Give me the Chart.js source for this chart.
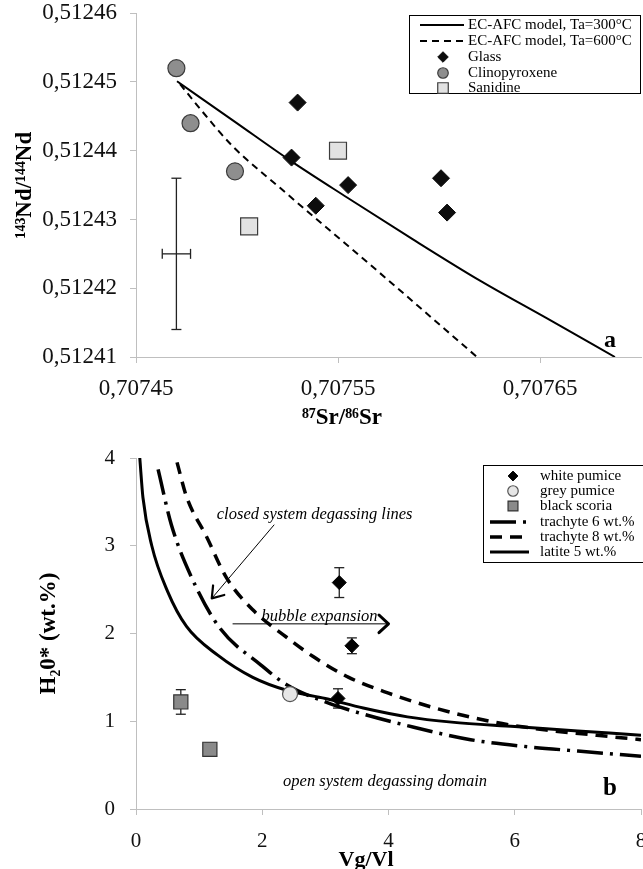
<!DOCTYPE html>
<html><head><meta charset="utf-8">
<script src="https://cdn.jsdelivr.net/npm/chart.js@4.4.1/dist/chart.umd.min.js"></script>
<style>
html,body{margin:0;padding:0;background:#fff;overflow:hidden;width:643px;height:869px;}
#wrap{position:relative;width:643px;height:869px;overflow:hidden;background:#fff;}
canvas{position:absolute;left:0;}
</style></head><body>
<div id="wrap">
<canvas id="c1" width="660" height="435" style="top:0;width:660px;height:435px"></canvas>
<canvas id="c2" width="660" height="434" style="top:435px;width:660px;height:434px"></canvas>
</div>
<script>
// ---------- Panel a data ----------
const srTicks = [0.70745, 0.70755, 0.70765];
const ndTicks = [0.51241, 0.51242, 0.51243, 0.51244, 0.51245, 0.51246];
const srGlass = [0.70753, 0.707527, 0.707555, 0.707539, 0.707601, 0.707604];
const ndGlass = [0.512447, 0.512439, 0.512435, 0.512432, 0.512436, 0.512431];
const srCpx = [0.70747, 0.707477, 0.707499];
const ndCpx = [0.512452, 0.512444, 0.512437];
const srSan = [0.70755, 0.707506];
const ndSan = [0.51244, 0.512429];
const srTa300 = [0.7074703, 0.707499, 0.7075262, 0.7075545, 0.7075871, 0.7076203, 0.7076535, 0.7076871];
const ndTa300 = [0.5124501, 0.5124442, 0.5124386, 0.5124332, 0.5124271, 0.5124211, 0.5124156, 0.51241];
const srTa600 = [0.7074718, 0.7074817, 0.707498, 0.7075213, 0.7075708, 0.7076188];
const ndTa600 = [0.5124497, 0.5124461, 0.5124406, 0.5124346, 0.5124222, 0.51241];
const srErrCenter = [0.70747];
const ndErrCenter = [0.512425];
const srErr = [0.000007];
const ndErr = [0.000011];

// ---------- Panel b data ----------
const vgTicks = [0, 2, 4, 6, 8];
const h2oTicks = [0, 1, 2, 3, 4];
const whiteVg = [3.22, 3.42, 3.2];
const whiteH2o = [2.58, 1.86, 1.26];
const whiteErr = [0.17, 0.09, 0.11];
const greyVg = [2.44];
const greyH2o = [1.31];
const blackVg = [0.71, 1.17];
const blackH2o = [1.22, 0.68];
const blackErr = [0.14, 0.07];
const tr6Vg = [0.35, 0.56, 0.88, 1.32, 1.98, 2.38, 3.0, 3.56, 4.3, 5.3, 6.2, 7.0, 8.0];
const tr6H2o = [3.87, 3.24, 2.64, 2.07, 1.64, 1.42, 1.22, 1.09, 0.95, 0.79, 0.71, 0.66, 0.6];
const tr8Vg = [0.65, 0.8, 1.12, 1.43, 1.85, 2.38, 2.8, 3.37, 4.0, 4.69, 5.6, 6.5, 7.3, 8.0];
const tr8H2o = [3.95, 3.56, 3.1, 2.64, 2.27, 1.96, 1.74, 1.5, 1.32, 1.16, 1.0, 0.9, 0.84, 0.79];
const lat5Vg = [0.06, 0.11, 0.25, 0.5, 0.8, 1.3, 1.85, 2.4, 3.0, 3.6, 4.3, 5.0, 6.0, 7.0, 8.0];
const lat5H2o = [4.0, 3.55, 3.0, 2.48, 2.08, 1.75, 1.5, 1.35, 1.26, 1.15, 1.05, 0.99, 0.94, 0.89, 0.84];

const SERIF = "'Liberation Serif', 'Times New Roman', Times, serif";
const pts = (xs, ys) => xs.map((x, i) => ({x: x, y: ys[i]}));
const fmt5 = v => Number(v).toFixed(5).replace('.', ',');

function drawMarker(ctx, style, x, y, r, fill, stroke, bw) {
  ctx.save();
  ctx.fillStyle = fill; ctx.strokeStyle = stroke; ctx.lineWidth = bw;
  ctx.beginPath();
  if (style === 'circle') ctx.arc(x, y, r, 0, Math.PI * 2);
  else if (style === 'rectRot') { ctx.moveTo(x, y - r); ctx.lineTo(x + r, y); ctx.lineTo(x, y + r); ctx.lineTo(x - r, y); ctx.closePath(); }
  else { const s = r * Math.SQRT1_2; ctx.rect(x - s, y - s, 2 * s, 2 * s); }
  ctx.fill(); if (bw > 0) ctx.stroke();
  ctx.restore();
}

function makeExtras(cfg) {
  return {
    id: 'extras_' + cfg.name,
    beforeDatasetsDraw(chart) {
      const ctx = chart.ctx, xs = chart.scales.x, ys = chart.scales.y;
      (cfg.errorBars || []).forEach(eb => {
        ctx.save(); ctx.strokeStyle = eb.color; ctx.lineWidth = eb.width;
        const seg = (a, b, c, d) => { ctx.beginPath(); ctx.moveTo(a, b); ctx.lineTo(c, d); ctx.stroke(); };
        eb.x.forEach((xv, i) => {
          const px = xs.getPixelForValue(xv), py = ys.getPixelForValue(eb.y[i]);
          if (eb.yErr) {
            const t = ys.getPixelForValue(eb.y[i] + eb.yErr[i]), b = ys.getPixelForValue(eb.y[i] - eb.yErr[i]);
            seg(px, t, px, b); seg(px - eb.cap, t, px + eb.cap, t); seg(px - eb.cap, b, px + eb.cap, b);
          }
          if (eb.xErr) {
            const l = xs.getPixelForValue(xv - eb.xErr[i]), r = xs.getPixelForValue(xv + eb.xErr[i]);
            seg(l, py, r, py); seg(l, py - eb.cap, l, py + eb.cap); seg(r, py - eb.cap, r, py + eb.cap);
          }
        });
        ctx.restore();
      });
    },
    afterDraw(chart) {
      const ctx = chart.ctx, xs = chart.scales.x, ys = chart.scales.y;
      (cfg.arrows || []).forEach(a => {
        const x0 = xs.getPixelForValue(a.from[0]), y0 = ys.getPixelForValue(a.from[1]);
        const x1 = xs.getPixelForValue(a.to[0]), y1 = ys.getPixelForValue(a.to[1]);
        ctx.save(); ctx.strokeStyle = '#000'; ctx.lineWidth = a.lineWidth;
        ctx.beginPath(); ctx.moveTo(x0, y0); ctx.lineTo(x1, y1); ctx.stroke();
        const ang = Math.atan2(y1 - y0, x1 - x0);
        ctx.lineWidth = a.headWidth; ctx.lineCap = 'round'; ctx.lineJoin = 'round';
        ctx.beginPath();
        ctx.moveTo(x1 - a.headLen * Math.cos(ang - a.headAng), y1 - a.headLen * Math.sin(ang - a.headAng));
        ctx.lineTo(x1, y1);
        ctx.lineTo(x1 - a.headLen * Math.cos(ang + a.headAng), y1 - a.headLen * Math.sin(ang + a.headAng));
        ctx.stroke();
        ctx.restore();
      });
      (cfg.texts || []).forEach(t => {
        ctx.save(); ctx.font = t.font; ctx.fillStyle = '#000';
        ctx.textAlign = t.align || 'left'; ctx.textBaseline = 'middle';
        ctx.fillText(t.text, xs.getPixelForValue(t.x), ys.getPixelForValue(t.y));
        ctx.restore();
      });
      if (cfg.xTitle) {
        ctx.save(); ctx.font = cfg.xTitle.font; ctx.fillStyle = '#000';
        ctx.textAlign = 'center'; ctx.textBaseline = 'middle';
        ctx.fillText(cfg.xTitle.text, cfg.xTitle.px, cfg.xTitle.py);
        ctx.restore();
      }
      const lg = cfg.legend;
      if (lg) {
        ctx.save();
        ctx.fillStyle = '#fff'; ctx.fillRect(lg.x, lg.y, lg.w, lg.h);
        ctx.strokeStyle = '#000'; ctx.lineWidth = 1; ctx.strokeRect(lg.x + 0.5, lg.y + 0.5, lg.w, lg.h);
        ctx.font = lg.font; ctx.textBaseline = 'middle'; ctx.textAlign = 'left';
        lg.order.forEach((di, i) => {
          const ds = chart.data.datasets[di];
          const y = lg.rowY[i];
          if (ds.showLine) {
            ctx.save(); ctx.strokeStyle = ds.borderColor; ctx.lineWidth = ds.borderWidth;
            ctx.setLineDash(ds.borderDash || []);
            ctx.beginPath(); ctx.moveTo(lg.lineX0, y); ctx.lineTo(lg.lineX1, y); ctx.stroke();
            ctx.restore();
          } else {
            drawMarker(ctx, ds.pointStyle, lg.markerX, y, ds.pointRadius * lg.markerScale,
              ds.backgroundColor, ds.borderColor, ds.borderWidth);
          }
          ctx.fillStyle = '#000';
          ctx.fillText(ds.label, lg.textX, y);
        });
        ctx.restore();
      }
    }
  };
}

const commonGrid = {drawOnChartArea: false, drawTicks: true, tickLength: 6, color: '#bfbfbf', lineWidth: 1};
const commonBorder = {color: '#bfbfbf', width: 1};
const fixY = s => { s.width = 136; s.paddingTop = 0; s.paddingBottom = 0; };
const fixX = h => s => { s.height = h; s.paddingLeft = 0; s.paddingRight = 0; };

// ---------- Chart a ----------
new Chart(document.getElementById('c1'), {
  type: 'scatter',
  data: {datasets: [
    {label: 'Glass', data: pts(srGlass, ndGlass), pointStyle: 'rectRot', pointRadius: 8.5,
     backgroundColor: '#0d0d0d', borderColor: '#0d0d0d', borderWidth: 1, order: 1},
    {label: 'Clinopyroxene', data: pts(srCpx, ndCpx), pointStyle: 'circle', pointRadius: 8.5,
     backgroundColor: '#8e8e8e', borderColor: '#3c3c3c', borderWidth: 1.2, order: 1},
    {label: 'Sanidine', data: pts(srSan, ndSan), pointStyle: 'rect', pointRadius: 12,
     backgroundColor: '#e2e2e2', borderColor: '#3c3c3c', borderWidth: 1.2, order: 1},
    {label: 'EC-AFC model, Ta=300°C', data: pts(srTa300, ndTa300), showLine: true, pointRadius: 0,
     borderColor: '#000', backgroundColor: '#000', borderWidth: 2, cubicInterpolationMode: 'monotone', order: 2},
    {label: 'EC-AFC model, Ta=600°C', data: pts(srTa600, ndTa600), showLine: true, pointRadius: 0,
     borderColor: '#000', backgroundColor: '#000', borderWidth: 2, borderDash: [7, 5], cubicInterpolationMode: 'monotone', order: 2}
  ]},
  options: {
    responsive: false, animation: false, devicePixelRatio: 1,
    layout: {padding: {top: 12, right: 19, left: 0, bottom: 0}},
    plugins: {legend: {display: false}, tooltip: {enabled: false}},
    scales: {
      x: {type: 'linear', min: 0.70745, max: 0.7077,
        afterBuildTicks: s => { s.ticks = srTicks.map(v => ({value: v})); },
        afterFit: fixX(78),
        grid: commonGrid, border: commonBorder,
        ticks: {font: {family: SERIF, size: 23}, color: '#111', padding: 12, maxRotation: 0, callback: v => fmt5(v)}},
      y: {type: 'linear', min: 0.51241, max: 0.51246,
        afterBuildTicks: s => { s.ticks = ndTicks.map(v => ({value: v})); },
        afterFit: fixY,
        grid: commonGrid, border: commonBorder,
        ticks: {font: {family: SERIF, size: 23, lineHeight: 1}, color: '#111', padding: 13, callback: v => fmt5(v)},
        title: {display: true, text: '¹⁴³Nd/¹⁴⁴Nd', color: '#000',
          font: {family: SERIF, size: 23, weight: 'bold'}, padding: {top: 11, bottom: 0}}}
    }
  },
  plugins: [makeExtras({
    name: 'a',
    errorBars: [{x: srErrCenter, y: ndErrCenter, xErr: srErr, yErr: ndErr, color: '#222', width: 1.3, cap: 5}],
    texts: [{text: 'a', x: 0.7076846, y: 0.5124123, font: 'bold 24px ' + SERIF, align: 'center'}],
    xTitle: {text: '⁸⁷Sr/⁸⁶Sr', px: 342, py: 418, font: 'bold 23px ' + SERIF},
    legend: {x: 409, y: 15, w: 231, h: 78, rowY: [25, 41, 57, 73, 88], order: [3, 4, 0, 1, 2],
      lineX0: 420, lineX1: 464, markerX: 443, markerScale: 0.62, textX: 468, font: '15px ' + SERIF}
  })]
});

// ---------- Chart b ----------
new Chart(document.getElementById('c2'), {
  type: 'scatter',
  data: {datasets: [
    {label: 'white pumice', data: pts(whiteVg, whiteH2o), pointStyle: 'rectRot', pointRadius: 7,
     backgroundColor: '#000', borderColor: '#000', borderWidth: 1, order: 1},
    {label: 'grey pumice', data: pts(greyVg, greyH2o), pointStyle: 'circle', pointRadius: 7.5,
     backgroundColor: '#e6e6e6', borderColor: '#555', borderWidth: 1.2, order: 1},
    {label: 'black scoria', data: pts(blackVg, blackH2o), pointStyle: 'rect', pointRadius: 10,
     backgroundColor: '#8a8a8a', borderColor: '#333', borderWidth: 1.2, order: 1},
    {label: 'trachyte 6 wt.%', data: pts(tr6Vg, tr6H2o), showLine: true, pointRadius: 0,
     borderColor: '#000', backgroundColor: '#000', borderWidth: 3.5, borderDash: [26, 7, 3, 7], cubicInterpolationMode: 'monotone', order: 2},
    {label: 'trachyte 8 wt.%', data: pts(tr8Vg, tr8H2o), showLine: true, pointRadius: 0,
     borderColor: '#000', backgroundColor: '#000', borderWidth: 3.5, borderDash: [12, 8], cubicInterpolationMode: 'monotone', order: 2},
    {label: 'latite 5 wt.%', data: pts(lat5Vg, lat5H2o), showLine: true, pointRadius: 0,
     borderColor: '#000', backgroundColor: '#000', borderWidth: 3, cubicInterpolationMode: 'monotone', order: 2}
  ]},
  options: {
    responsive: false, animation: false, devicePixelRatio: 1,
    layout: {padding: {top: 23, right: 19, left: 0, bottom: 0}},
    plugins: {legend: {display: false}, tooltip: {enabled: false}},
    scales: {
      x: {type: 'linear', min: 0, max: 8,
        afterBuildTicks: s => { s.ticks = vgTicks.map(v => ({value: v})); },
        afterFit: fixX(60),
        grid: commonGrid, border: commonBorder,
        ticks: {font: {family: SERIF, size: 21}, color: '#111', padding: 14, maxRotation: 0}},
      y: {type: 'linear', min: 0, max: 4,
        afterBuildTicks: s => { s.ticks = h2oTicks.map(v => ({value: v})); },
        afterFit: fixY,
        grid: commonGrid, border: commonBorder,
        ticks: {font: {family: SERIF, size: 21, lineHeight: 1}, color: '#111', padding: 15},
        title: {display: true, text: 'H₂0* (wt.%)', color: '#000',
          font: {family: SERIF, size: 23, weight: 'bold'}, padding: {top: 35, bottom: 0}}}
    }
  },
  plugins: [makeExtras({
    name: 'b',
    errorBars: [
      {x: whiteVg, y: whiteH2o, yErr: whiteErr, color: '#222', width: 1.3, cap: 5},
      {x: blackVg, y: blackH2o, yErr: blackErr, color: '#222', width: 1.3, cap: 5}
    ],
    arrows: [
      {from: [2.19, 3.24], to: [1.2, 2.40], lineWidth: 1, headWidth: 2.2, headLen: 13, headAng: 0.6},
      {from: [1.53, 2.11], to: [4.0, 2.11], lineWidth: 1, headWidth: 3, headLen: 13, headAng: 0.75}
    ],
    texts: [
      {text: 'closed system degassing lines', x: 1.28, y: 3.35, font: 'italic 16.5px ' + SERIF},
      {text: 'bubble expansion', x: 1.99, y: 2.19, font: 'italic 16.5px ' + SERIF},
      {text: 'open system degassing domain', x: 2.33, y: 0.31, font: 'italic 16.5px ' + SERIF},
      {text: 'b', x: 7.51, y: 0.23, font: 'bold 25px ' + SERIF, align: 'center'}
    ],
    xTitle: {text: 'Vg/Vl', px: 366, py: 425, font: 'bold 22px ' + SERIF},
    legend: {x: 483, y: 30, w: 170, h: 97, rowY: [41, 56, 71, 87, 102, 117], order: [0, 1, 2, 3, 4, 5],
      lineX0: 490, lineX1: 529, markerX: 513, markerScale: 0.7, textX: 540, font: '15px ' + SERIF}
  })]
});
</script>
</body></html>
